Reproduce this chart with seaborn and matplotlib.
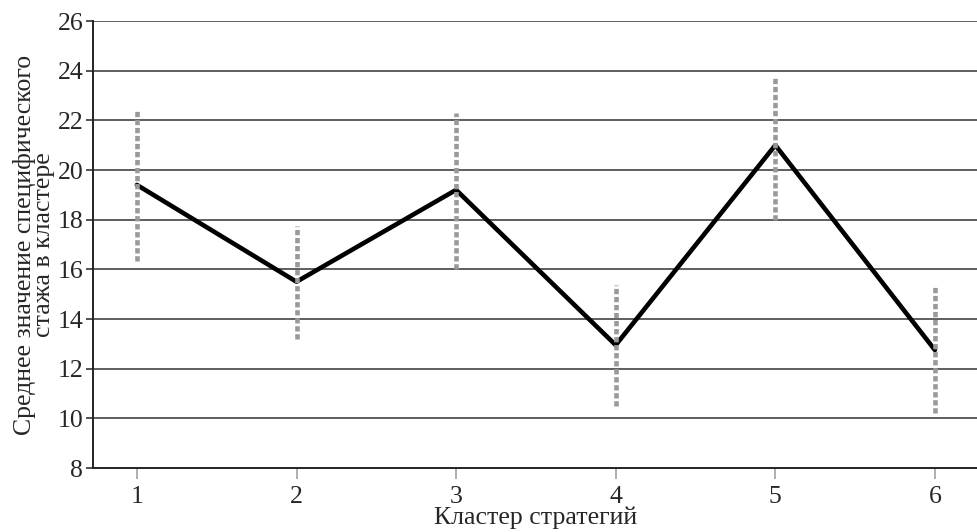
import pandas as pd
import matplotlib
matplotlib.use('Agg')
import matplotlib.pyplot as plt
import seaborn as sns

# data
clusters = [1, 2, 3, 4, 5, 6]
mean_exp = [19.4, 15.5, 19.2, 12.95, 21.0, 12.75]
err_low = [16.35, 13.2, 16.0, 10.5, 18.0, 10.2]
err_high = [22.4, 17.75, 22.3, 15.35, 23.7, 15.3]
y_ticks = [8, 10, 12, 14, 16, 18, 20, 22, 24, 26]


def main():
    sns.set_theme(style='white')
    plt.rcParams['font.family'] = ['Liberation Serif', 'DejaVu Serif']
    fs = 18.5

    df = pd.DataFrame({'cluster': clusters, 'mean': mean_exp,
                       'lo': err_low, 'hi': err_high})

    fig = plt.figure(figsize=(9.78, 5.32), dpi=100)
    ax = fig.add_axes([0.0951, 0.1203, 0.9049, 0.8402])

    # horizontal grid lines
    for yv in y_ticks[1:]:
        ax.axhline(yv, color='#333333', lw=1.1, zorder=1)

    sns.lineplot(data=df, x='cluster', y='mean', color='black', lw=3.3,
                 ax=ax, zorder=3)

    # dotted grey error bars, drawn over the line
    ax.vlines(df['cluster'], df['lo'], df['hi'], colors='#999999',
              linewidth=3.3, linestyles=(0, (1.15, 0.6)), zorder=4,
              capstyle='butt')

    ax.set_xlim(0.725, 6.27)
    ax.set_ylim(8, 26)
    ax.set_xticks(clusters)
    ax.set_yticks(y_ticks)
    ax.tick_params(axis='y', direction='out', length=5, width=1.1,
                   color='#222222', labelsize=fs, pad=2, left=True)
    ax.tick_params(axis='x', direction='out', length=8, width=1.1,
                   color='#999999', labelsize=fs, pad=5, bottom=True)

    for s in ['top', 'right']:
        ax.spines[s].set_visible(False)
    for s in ['left', 'bottom']:
        ax.spines[s].set_color('#222222')
        ax.spines[s].set_linewidth(1.4)

    ax.set_xlabel('Кластер стратегий', fontsize=fs, labelpad=-1)
    ax.set_ylabel('Среднее значение специфического\nстажа в кластере',
                  fontsize=fs, linespacing=0.8, labelpad=2)

    fig.savefig('out.png', dpi=100)
    plt.close(fig)


if __name__ == "__main__":
    main()
